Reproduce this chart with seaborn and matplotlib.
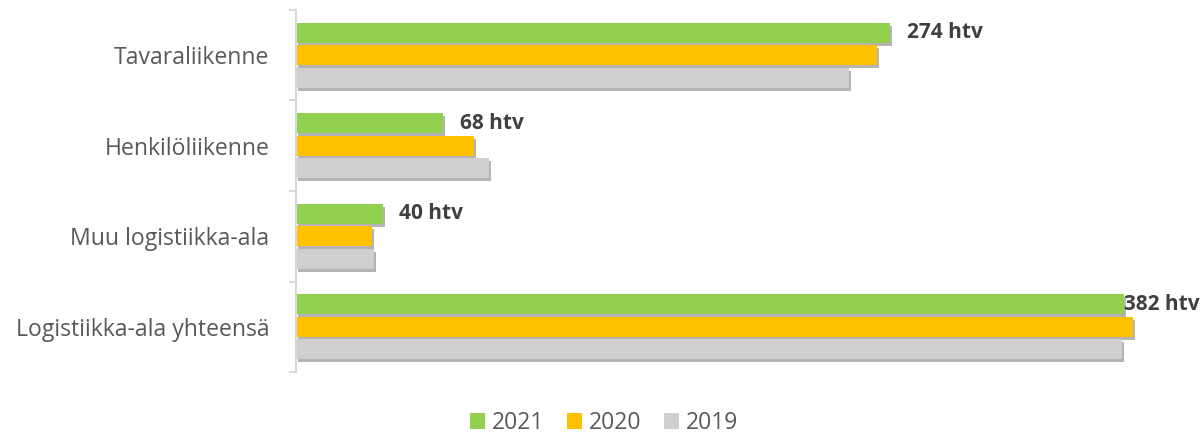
import matplotlib
matplotlib.use("Agg")

import matplotlib.pyplot as plt
import matplotlib.patheffects as pe
from matplotlib.patches import Patch
from matplotlib.transforms import offset_copy
import pandas as pd
import seaborn as sns


CATEGORIES = [
    "Tavaraliikenne", "Henkilöliikenne",
    "Muu logistiikka-ala", "Logistiikka-ala yhteensä"
]
YEARS = ["2021", "2020", "2019"]
V2021 = [274, 68, 40, 382]
V2020 = [268, 82, 35, 386]
V2019 = [255, 89, 36, 381]
LABEL_SUFFIX = "htv"

COLORS = {"2021": "#92D050", "2020": "#FFC000", "2019": "#D0CECE"}
TEXT = "#595959"
LABEL_TEXT = "#404040"
AXIS = "#D9D9D9"

sns.set_theme(style="white")
plt.rcParams["font.family"] = ["Open Sans", "DejaVu Sans"]

df = pd.DataFrame({
    "category": CATEGORIES * 3,
    "year": ["2021"] * 4 + ["2020"] * 4 + ["2019"] * 4,
    "value": V2021 + V2020 + V2019,
})

fig = plt.figure(figsize=(12.01, 4.34), dpi=100)
ax = fig.add_axes([296 / 1201, 1 - 372 / 434, 867 / 1201, 362 / 434])

sns.barplot(
    data=df, y="category", x="value", hue="year",
    order=CATEGORIES, hue_order=YEARS, palette=COLORS,
    orient="h", width=0.75, gap=0.12, legend=False,
    saturation=1, ax=ax, errorbar=None
)

shadow = [
    pe.SimplePatchShadow(offset=(1.5, -2.2), shadow_rgbFace="#595959", alpha=0.45),
    pe.Normal(),
]
for bar in ax.patches:
    bar.set_edgecolor("none")
    bar.set_path_effects(shadow)

ax.set_xlim(0, 400)
ax.set_ylim(len(CATEGORIES) - 0.5, -0.5)
ax.set_xlabel("")
ax.set_ylabel("")
ax.set_xticks([])

for side in ["top", "right", "bottom"]:
    ax.spines[side].set_visible(False)
ax.spines["left"].set_color(AXIS)
ax.spines["left"].set_linewidth(1.5)

ax.set_yticks(range(len(CATEGORIES)))
ax.set_yticklabels(CATEGORIES, fontsize=16.6, color=TEXT)
ax.set_yticks([i - 0.5 for i in range(len(CATEGORIES) + 1)], minor=True)
ax.tick_params(axis="y", which="major", length=0, pad=19)
ax.tick_params(axis="y", which="minor", length=5, width=1.5, color=AXIS, left=True)

# data labels at the end of the 2021 bars
fig.canvas.draw()
renderer = fig.canvas.get_renderer()
green_bars = ax.containers[0]
for bar, value in zip(green_bars, V2021):
    y = bar.get_y() + bar.get_height() / 2
    x = bar.get_width()
    txt = ax.text(
        x, y, f"{value} {LABEL_SUFFIX}",
        transform=offset_copy(ax.transData, fig=fig, x=12, y=0, units="points"),
        ha="left", va="center", fontsize=15, fontweight="bold", color=LABEL_TEXT
    )
    if txt.get_window_extent(renderer).x1 > fig.bbox.width - 4:
        txt.set_transform(ax.transData)

handles = [Patch(facecolor=COLORS[y], edgecolor="none") for y in YEARS]
fig.legend(
    handles, YEARS, loc="center", bbox_to_anchor=(0.503, 1 - 423 / 434),
    ncol=3, frameon=False, fontsize=16.5, labelcolor=TEXT,
    handlelength=0.65, handleheight=0.65, handletextpad=0.3, columnspacing=1.0,
    borderpad=0.1
)

fig.savefig("out.png", dpi=100)
